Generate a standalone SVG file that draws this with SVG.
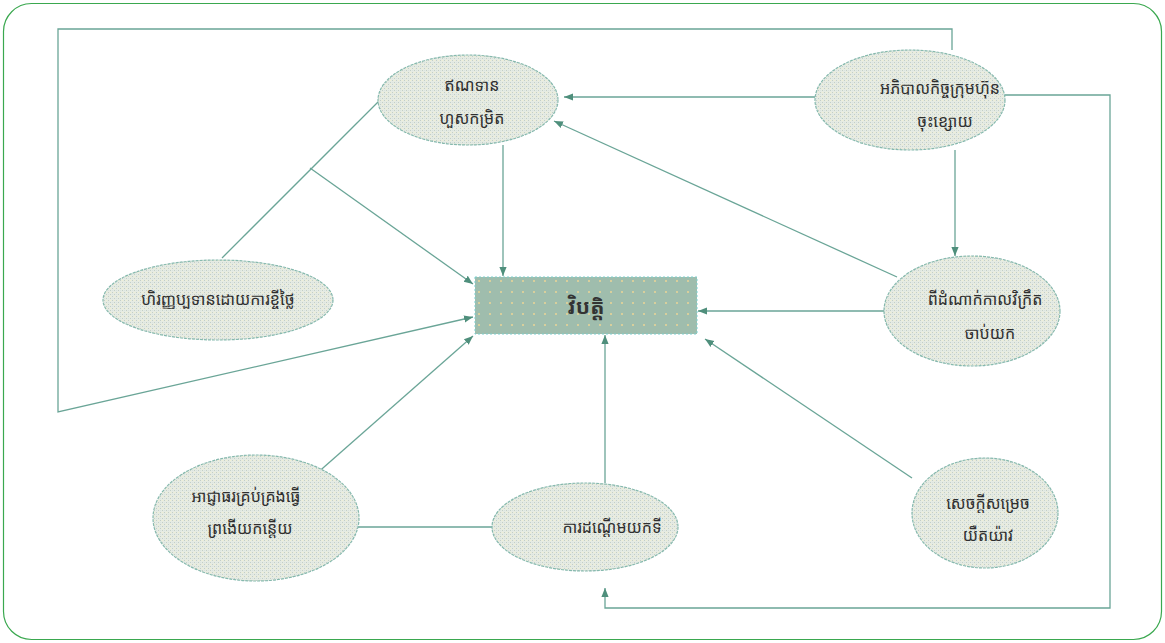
<svg xmlns="http://www.w3.org/2000/svg" width="1165" height="643" viewBox="0 0 1165 643">
<defs>
<pattern id="dith" width="4" height="4" patternUnits="userSpaceOnUse">
<rect width="4" height="4" fill="#e6ebe3"/>
<rect x="0" y="0" width="1" height="1" fill="#c3cec7"/>
<rect x="2" y="2" width="1" height="1" fill="#c3cec7"/>
<rect x="2" y="0" width="1" height="1" fill="#f1efd0"/>
<rect x="0" y="2" width="1" height="1" fill="#d8e3e1"/>
</pattern>
<pattern id="dots" width="11" height="11" patternUnits="userSpaceOnUse">
<rect width="11" height="11" fill="#9fbdad"/>
<rect x="5" y="5" width="2" height="2" fill="#d8cf9c"/>
</pattern>
<marker id="arr" viewBox="0 0 10 10" refX="10" refY="5" markerWidth="9" markerHeight="9" orient="auto" markerUnits="userSpaceOnUse">
<path d="M0,1 L10,5 L0,9 z" fill="#4f8f7c"/>
</marker>
<style>
.ell{fill:url(#dith);stroke:#86b9ae;stroke-width:1.2;stroke-dasharray:3 1}
.ln{fill:none;stroke:#6aa597;stroke-width:1.3}
.t{font-family:"Noto Sans Khmer","Khmer OS","Noto Serif Khmer","Noto Sans",sans-serif;font-size:16px;fill:#2f2f2f;text-anchor:middle}
</style>
</defs>
<rect x="3.5" y="3.5" width="1158" height="636" rx="28" ry="28" fill="#fff" stroke="#3aa84f" stroke-width="1.2"/>
<g id="connectors">
<line class="ln" x1="503" y1="145" x2="503" y2="276" marker-end="url(#arr)"/>
<line class="ln" x1="815" y1="97" x2="564" y2="97" marker-end="url(#arr)"/>
<line class="ln" x1="955" y1="150" x2="955" y2="256" marker-end="url(#arr)"/>
<line class="ln" x1="897" y1="277" x2="554" y2="121" marker-end="url(#arr)"/>
<line class="ln" x1="884" y1="311" x2="698" y2="311" marker-end="url(#arr)"/>
<line class="ln" x1="912" y1="478" x2="705" y2="339" marker-end="url(#arr)"/>
<line class="ln" x1="605" y1="483" x2="605" y2="335" marker-end="url(#arr)"/>
<line class="ln" x1="315" y1="475" x2="473" y2="336" marker-end="url(#arr)"/>
<line class="ln" x1="358" y1="527" x2="492" y2="527"/>
<line class="ln" x1="222" y1="258" x2="378" y2="102"/>
<line class="ln" x1="310" y1="168" x2="473" y2="284" marker-end="url(#arr)"/>
<polyline class="ln" points="952,50 952,29 58,29 58,412 473,317" marker-end="url(#arr)"/>
<polyline class="ln" points="1005,95 1110,95 1110,608 605,608 605,588" marker-end="url(#arr)"/>
</g>
<g id="node-center">
<rect x="475" y="277" width="222" height="57" fill="url(#dots)" stroke="#7ccfcf" stroke-width="1" stroke-dasharray="2 2"/>
<text class="t" x="586" y="314" style="font-size:21px;font-weight:bold;fill:#333">វិបត្តិ</text>
</g>
<g id="node-top">
<ellipse class="ell" cx="468" cy="100" rx="90" ry="45"/>
<text class="t" x="472" y="91">ឥណទាន</text>
<text class="t" x="472" y="124">ហួសកម្រិត</text>
</g>
<g id="node-topright">
<ellipse class="ell" cx="910" cy="100" rx="95" ry="50"/>
<text class="t" x="940" y="94">អភិបាលកិច្ចក្រុមហ៊ុន</text>
<text class="t" x="945" y="127">ចុះខ្សោយ</text>
</g>
<g id="node-left">
<ellipse class="ell" cx="218" cy="300" rx="115" ry="40"/>
<text class="t" x="218" y="305">ហិរញ្ញប្បទានដោយការខ្ចីថ្លៃ</text>
</g>
<g id="node-right">
<ellipse class="ell" cx="972" cy="311" rx="88" ry="55"/>
<text class="t" x="985" y="305">ពីដំណាក់កាលវិក្រឹត</text>
<text class="t" x="990" y="339">ចាប់យក</text>
</g>
<g id="node-bottomleft">
<ellipse class="ell" cx="256" cy="518" rx="103" ry="63"/>
<text class="t" x="246" y="502">អាជ្ញាធរគ្រប់គ្រងធ្វើ</text>
<text class="t" x="250" y="534">ព្រងើយកន្តើយ</text>
</g>
<g id="node-bottommid">
<ellipse class="ell" cx="585" cy="527" rx="93" ry="44"/>
<text class="t" x="612" y="533">ការដណ្ដើមយកទី</text>
</g>
<g id="node-bottomright">
<ellipse class="ell" cx="985" cy="513" rx="73" ry="55"/>
<text class="t" x="988" y="509">សេចក្ដីសម្រេច</text>
<text class="t" x="988" y="541">យឺតយ៉ាវ</text>
</g>
</svg>
